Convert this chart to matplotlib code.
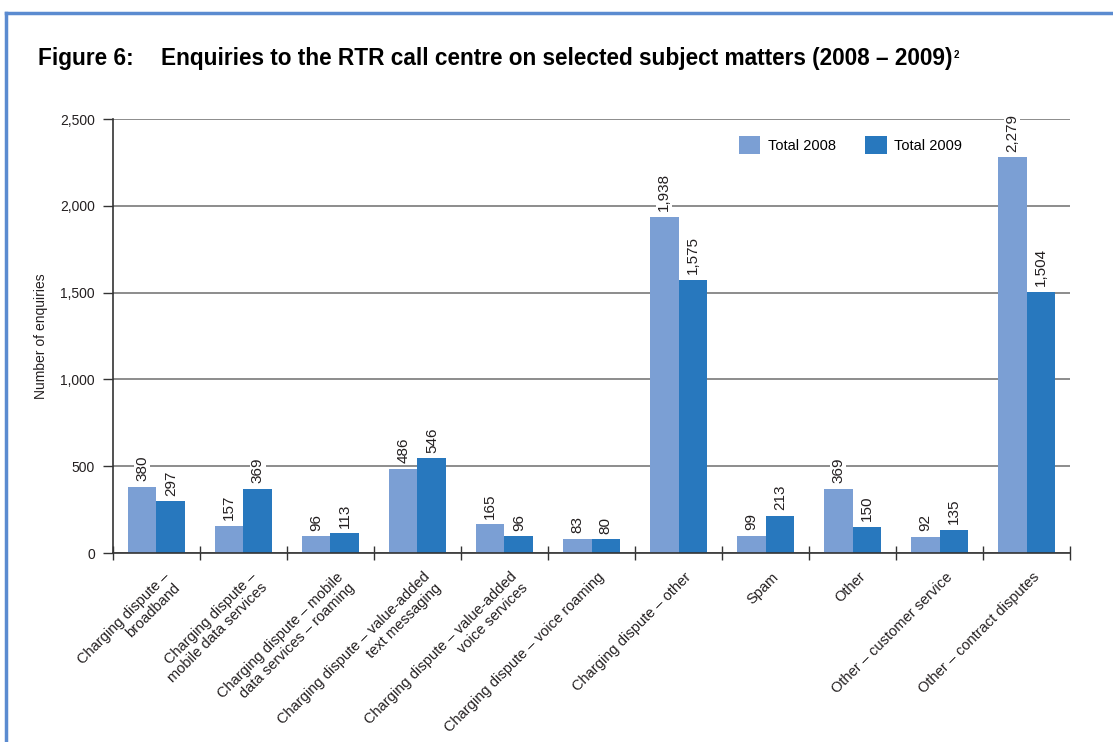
import numpy as np
import matplotlib
matplotlib.use("Agg")
import matplotlib.pyplot as plt
from matplotlib.lines import Line2D

categories = [
    "Charging dispute –\nbroadband",
    "Charging dispute –\nmobile data services",
    "Charging dispute – mobile\ndata services – roaming",
    "Charging dispute – value-added\ntext messaging",
    "Charging dispute – value-added\nvoice services",
    "Charging dispute – voice roaming",
    "Charging dispute – other",
    "Spam",
    "Other",
    "Other – customer service",
    "Other – contract disputes",
]
total_2008 = [380, 157, 96, 486, 165, 83, 1938, 99, 369, 92, 2279]
total_2009 = [297, 369, 113, 546, 96, 80, 1575, 213, 150, 135, 1504]
y_ticks = [0, 500, 1000, 1500, 2000, 2500]

plt.rcParams["font.family"] = ["Liberation Sans", "DejaVu Sans"]

light = "#7b9fd4"
dark = "#2878be"
text_col = "#231f20"

fig = plt.figure(figsize=(11.13, 7.42), dpi=100)
ax = fig.add_axes([0.1015, 0.2547, 0.8599, 0.5849])

x = np.arange(len(categories))
w = 0.33
b1 = ax.bar(x - w / 2, total_2008, w, color=light, label="Total 2008", zorder=2)
b2 = ax.bar(x + w / 2, total_2009, w, color=dark, label="Total 2009", zorder=2)

for bars in (b1, b2):
    for rect in bars:
        h = rect.get_height()
        ax.annotate(f"{h:,.0f}", (rect.get_x() + rect.get_width() / 2, h),
                    xytext=(0, 4), textcoords="offset points",
                    rotation=90, ha="center", va="bottom", fontsize=11,
                    color=text_col, zorder=3,
                    bbox=dict(boxstyle="square,pad=0.05", fc="white", ec="none"))

ax.set_xlim(-0.5, len(categories) - 0.5)
ax.set_ylim(0, 2500)
ax.set_yticks(y_ticks)
ax.set_yticklabels([f"{v:,}" for v in y_ticks], fontsize=10, color=text_col)
ax.yaxis.grid(True, color="#8c8c8c", linewidth=1.4, zorder=0)
ax.set_axisbelow(True)

# category boundaries carry the x ticks, labels sit at the centres
ax.set_xticks(np.arange(len(categories) + 1) - 0.5)
ax.set_xticklabels([])
ax.tick_params(axis="x", direction="inout", length=10, width=1.0, color="#333333")
ax.tick_params(axis="y", direction="out", length=7, width=1.0, color="#333333", pad=6)
for xi, lab in zip(x, categories):
    ax.annotate(lab, (xi, 0), xycoords=("data", "axes fraction"),
                xytext=(4, -12), textcoords="offset points",
                rotation=45, rotation_mode="anchor", ha="right", va="top",
                multialignment="right", fontsize=10.5, color=text_col,
                linespacing=1.15)

for side in ("top", "right"):
    ax.spines[side].set_visible(False)
for side in ("left", "bottom"):
    ax.spines[side].set_color("#333333")
    ax.spines[side].set_linewidth(1.2)

ax.set_ylabel("Number of enquiries", fontsize=10, color=text_col)
ax.yaxis.set_label_coords(-0.068, 0.5)

ax.legend(loc="upper left", bbox_to_anchor=(0.64, 0.99), ncol=2, frameon=False,
          fontsize=10.5, handlelength=1.5, handleheight=1.5, columnspacing=2.0,
          handletextpad=0.5)

fig.text(0.034, 0.912, "Figure 6:", fontsize=16.3, fontweight="bold",
         color="#000000", va="baseline")
title = fig.text(0.145, 0.912,
                 "Enquiries to the RTR call centre on selected subject matters (2008 – 2009)",
                 fontsize=16.3, fontweight="bold", color="#000000", va="baseline")
fig.canvas.draw()
bb = title.get_window_extent().transformed(fig.transFigure.inverted())
fig.text(bb.x1 + 0.001, bb.y1 - 0.004, "2", fontsize=7, fontweight="bold",
         color="#000000", va="top")

# blue frame round the figure
frame = "#5b8bd0"
fig.add_artist(Line2D([0.005, 1.0], [0.983, 0.983], color=frame, linewidth=2.5))
fig.add_artist(Line2D([0.005, 0.005], [0.0, 0.983], color=frame, linewidth=2.5))

fig.savefig("out.png", dpi=100)
